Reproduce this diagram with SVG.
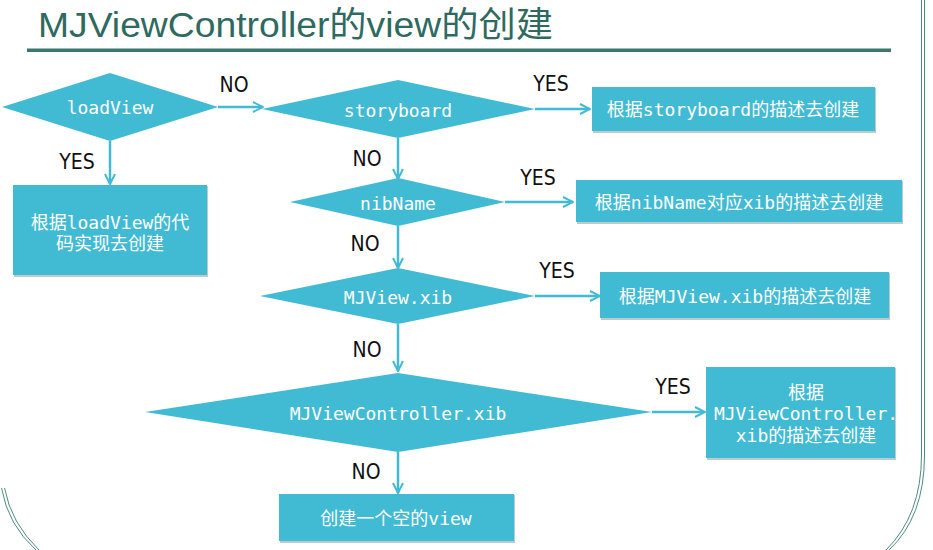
<svg xmlns="http://www.w3.org/2000/svg" width="933" height="550" viewBox="0 0 933 550">
<defs>
<marker id="arr" viewBox="0 0 12 12" refX="11" refY="6" markerWidth="12" markerHeight="12" markerUnits="userSpaceOnUse" orient="auto">
<path d="M1 1 L11 6 L1 11" fill="none" stroke="#41BBD3" stroke-width="2"/>
</marker>
</defs>
<style>
.d{fill:#41BBD3}
.b{fill:#41BBD3}
.sh{fill:#8FA9AE;opacity:0.6}
.t{font-family:"DejaVu Sans Mono","Noto Sans CJK SC",monospace;font-size:18px;fill:#ffffff;text-anchor:middle;dominant-baseline:central}
.l{font-family:"DejaVu Sans Condensed","DejaVu Sans","Liberation Sans",sans-serif;font-size:21px;fill:#111111;text-anchor:middle;dominant-baseline:central}
.c{stroke:#41BBD3;stroke-width:2.5;fill:none;marker-end:url(#arr)}
.frame{fill:none;stroke:#4F8A80;stroke-width:1}
</style>
<rect width="933" height="550" fill="#ffffff"/>
<g id="frame">
<path class="frame" d="M921.5 0 V455 Q921.5 515 886 550"/>
<path class="frame" d="M924.5 0 V455 Q924.5 517 889 550"/>
<path class="frame" d="M1.5 488 Q8 525 36 550"/>
<path class="frame" d="M4.5 488 Q11 523 39 550"/>
</g>
<g id="title">
<text x="38" y="37" font-family="'Liberation Sans','Noto Sans CJK SC',sans-serif" font-size="35" fill="#2E6A60" textLength="515" lengthAdjust="spacingAndGlyphs">MJViewController的view的创建</text>
<rect x="27" y="48.5" width="864" height="3.5" fill="#3A786D"/>
</g>
<g id="connectors">
<line class="c" x1="218" y1="107" x2="263" y2="107"/>
<line class="c" x1="110" y1="141" x2="110" y2="184"/>
<line class="c" x1="535" y1="109" x2="590" y2="109"/>
<line class="c" x1="398" y1="138" x2="398" y2="179"/>
<line class="c" x1="505" y1="202" x2="573" y2="202"/>
<line class="c" x1="398" y1="226" x2="398" y2="268"/>
<line class="c" x1="535" y1="296" x2="600" y2="296"/>
<line class="c" x1="398" y1="324" x2="398" y2="371"/>
<line class="c" x1="652" y1="412" x2="705" y2="412"/>
<line class="c" x1="398" y1="452" x2="398" y2="493"/>
<text class="l" x="234" y="85">NO</text>
<text class="l" x="77" y="162">YES</text>
<text class="l" x="551" y="84">YES</text>
<text class="l" x="367" y="159">NO</text>
<text class="l" x="538" y="178">YES</text>
<text class="l" x="365" y="244">NO</text>
<text class="l" x="557" y="271">YES</text>
<text class="l" x="367" y="350">NO</text>
<text class="l" x="673" y="387">YES</text>
<text class="l" x="366" y="472">NO</text>
</g>
<g id="loadView">
<polygon class="d" points="2,107 110,73 218,107 110,141"/>
<text class="t" x="110" y="107">loadView</text>
</g>
<g id="loadViewBox">
<rect class="sh" x="14" y="186" width="194" height="91"/>
<rect class="b" x="13" y="185" width="194" height="90"/>
<text class="t" x="110" y="222">根据loadView的代</text>
<text class="t" x="110" y="243">码实现去创建</text>
</g>
<g id="storyboard">
<polygon class="d" points="262,109 398,80 535,109 398,138"/>
<text class="t" x="398" y="110">storyboard</text>
</g>
<g id="storyboardBox">
<rect class="sh" x="593" y="88" width="283" height="45"/>
<rect class="b" x="592" y="87" width="283" height="44"/>
<text class="t" x="733" y="109">根据storyboard的描述去创建</text>
</g>
<g id="nibName">
<polygon class="d" points="290,202 398,178 505,202 398,226"/>
<text class="t" x="398" y="203">nibName</text>
</g>
<g id="nibNameBox">
<rect class="sh" x="577" y="181" width="326" height="43"/>
<rect class="b" x="576" y="180" width="326" height="42"/>
<text class="t" x="739" y="202">根据nibName对应xib的描述去创建</text>
</g>
<g id="mjviewxib">
<polygon class="d" points="260,296 398,268 535,296 398,324"/>
<text class="t" x="398" y="297">MJView.xib</text>
</g>
<g id="mjviewxibBox">
<rect class="sh" x="601" y="273" width="289" height="47"/>
<rect class="b" x="600" y="272" width="289" height="46"/>
<text class="t" x="745" y="296">根据MJView.xib的描述去创建</text>
</g>
<g id="mjvcxib">
<polygon class="d" points="145,412 398,373 652,412 398,452"/>
<text class="t" x="398" y="413">MJViewController.xib</text>
</g>
<g id="mjvcxibBox">
<rect class="sh" x="707" y="368" width="189" height="92"/>
<rect class="b" x="706" y="367" width="189" height="91"/>
<text class="t" x="806" y="392">根据</text>
<text class="t" x="806" y="413">MJViewController.</text>
<text class="t" x="806" y="435">xib的描述去创建</text>
</g>
<g id="emptyView">
<rect class="sh" x="280" y="495" width="235" height="48"/>
<rect class="b" x="279" y="494" width="235" height="47"/>
<text class="t" x="396" y="518">创建一个空的view</text>
</g>
</svg>
